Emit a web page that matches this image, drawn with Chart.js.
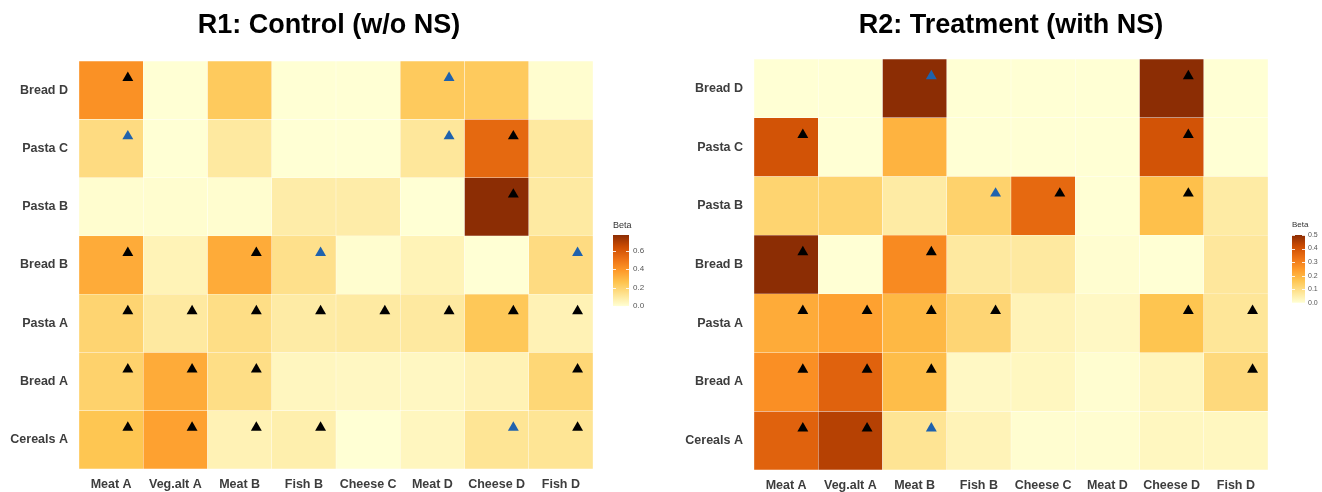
<!DOCTYPE html>
<html>
<head>
<meta charset="utf-8">
<title>Beta heatmaps R1 / R2</title>
<script src="https://cdn.jsdelivr.net/npm/chart.js@4.4.1/dist/chart.umd.min.js"></script>
<style>
  html, body { margin: 0; padding: 0; background: #ffffff; width: 1322px; height: 492px; overflow: hidden; }
  canvas { position: absolute; display: block; }
</style>
</head>
<body>
<canvas id="heatR1" width="600" height="492" style="left:0px;top:0px;width:600px;height:492px"></canvas>
<canvas id="barR1" width="43" height="100" style="left:606px;top:215px;width:43px;height:100px"></canvas>
<canvas id="heatR2" width="600" height="492" style="left:675px;top:0px;width:600px;height:492px"></canvas>
<canvas id="barR2" width="36" height="95" style="left:1288px;top:215px;width:36px;height:95px"></canvas>
<script>
// ---- categories -------------------------------------------------------
const products = ['Meat A', 'Veg.alt A', 'Meat B', 'Fish B', 'Cheese C', 'Meat D', 'Cheese D', 'Fish D'];
// food rows, listed from the top row down
const foods = ['Bread D', 'Pasta C', 'Pasta B', 'Bread B', 'Pasta A', 'Bread A', 'Cereals A'];

// ---- R1: Control (w/o NS) — beta per food (row) x product (column) ----
const betaR1 = [
  [0.41, 0.00, 0.23, 0.00,  0.00,  0.23,  0.23, 0.01 ],
  [0.16, 0.00, 0.10, 0.00,  0.00,  0.11,  0.54, 0.10 ],
  [0.01, 0.01, 0.01, 0.085, 0.085, 0.00,  0.77, 0.095],
  [0.33, 0.055,0.33, 0.14,  0.01,  0.055, 0.00, 0.16 ],
  [0.19, 0.10, 0.15, 0.09,  0.095, 0.10,  0.24, 0.06 ],
  [0.20, 0.33, 0.15, 0.04,  0.035, 0.035, 0.06, 0.18 ],
  [0.25, 0.36, 0.06, 0.075, 0.00,  0.04,  0.12, 0.12 ]
];
// significance markers: 'k' = black triangle, 'b' = blue triangle, '' = none
const sigR1 = [
  ['k', '',  '',  '',  '',  'b', '',  '' ],
  ['b', '',  '',  '',  '',  'b', 'k', '' ],
  ['',  '',  '',  '',  '',  '',  'k', '' ],
  ['k', '',  'k', 'b', '',  '',  '',  'b'],
  ['k', 'k', 'k', 'k', 'k', 'k', 'k', 'k'],
  ['k', 'k', 'k', '',  '',  '',  '',  'k'],
  ['k', 'k', 'k', 'k', '',  '',  'b', 'k']
];
const betaTicksR1 = [0.0, 0.2, 0.4, 0.6];

// ---- R2: Treatment (with NS) -------------------------------------------
const betaR2 = [
  [0.00,  0.00,  0.50, 0.00,  0.00,  0.00,  0.50,  0.00 ],
  [0.40,  0.00,  0.20, 0.00,  0.00,  0.00,  0.40,  0.00 ],
  [0.125, 0.125, 0.06, 0.13,  0.35,  0.00,  0.175, 0.06 ],
  [0.50,  0.00,  0.28, 0.065, 0.065, 0.005, 0.00,  0.07 ],
  [0.215, 0.235, 0.19, 0.12,  0.035, 0.02,  0.165, 0.075],
  [0.27,  0.365, 0.18, 0.02,  0.025, 0.005, 0.03,  0.11 ],
  [0.365, 0.445, 0.08, 0.035, 0.005, 0.005, 0.025, 0.025]
];
const sigR2 = [
  ['',  '',  'b', '',  '',  '',  'k', '' ],
  ['k', '',  '',  '',  '',  '',  'k', '' ],
  ['',  '',  '',  'b', 'k', '',  'k', '' ],
  ['k', '',  'k', '',  '',  '',  '',  '' ],
  ['k', 'k', 'k', 'k', '',  '',  'k', 'k'],
  ['k', 'k', 'k', '',  '',  '',  '',  'k'],
  ['k', 'k', 'b', '',  '',  '',  '',  '' ]
];
const betaTicksR2 = [0.0, 0.1, 0.2, 0.3, 0.4, 0.5];

// ---- styling -----------------------------------------------------------
const FONT = '"Liberation Sans", Arial, Helvetica, sans-serif';
const palette = ['#ffffd4', '#fee391', '#fec44f', '#fe9929', '#ec7014', '#cc4c02', '#8c2d04'];
const markColours = { k: '#000000', b: '#1f62ad' };

function hexRgb(h) {
  return [parseInt(h.slice(1, 3), 16), parseInt(h.slice(3, 5), 16), parseInt(h.slice(5, 7), 16)];
}
const paletteRgb = palette.map(hexRgb);

// linear interpolation through the sequential palette, t in [0, 1]
function colourAt(t) {
  t = Math.max(0, Math.min(1, t));
  const pos = t * (paletteRgb.length - 1);
  const i = Math.min(Math.floor(pos), paletteRgb.length - 2);
  const f = pos - i;
  const a = paletteRgb[i], b = paletteRgb[i + 1];
  const c = a.map((v, k) => Math.round(v + (b[k] - v) * f));
  return 'rgb(' + c.join(',') + ')';
}

// value-axis position of a food row (top row gets the highest index)
const rowPos = i => foods.length - 1 - i;

function cellDatasets(beta) {
  const flat = beta.flat();
  const vmin = Math.min(...flat), vmax = Math.max(...flat);
  return beta.map((row, i) => ({
    type: 'bar',
    label: foods[i],
    order: 1,
    data: row.map((v, c) => ({ x: c, y: [rowPos(i) - 0.5, rowPos(i) + 0.5], beta: v })),
    backgroundColor: row.map(v => colourAt((v - vmin) / (vmax - vmin))),
    borderColor: 'rgba(255,255,255,0.3)',
    borderWidth: 0.5,
    borderSkipped: false,
    grouped: false,
    categoryPercentage: 1,
    barPercentage: 1
  }));
}

function markerDataset(sig) {
  const pts = [], cols = [];
  sig.forEach((row, i) => row.forEach((s, c) => {
    if (s) {
      // triangles sit in the upper-right part of their cell
      pts.push({ x: c + 0.26, y: rowPos(i) + 0.21 });
      cols.push(markColours[s]);
    }
  }));
  return {
    type: 'scatter',
    label: 'significant',
    order: 0,
    data: pts,
    pointStyle: 'triangle',
    pointRadius: 6.3,
    pointHoverRadius: 6.3,
    pointBackgroundColor: cols,
    pointBorderWidth: 0
  };
}

// panel title centred over the plotting area
const panelTitle = {
  id: 'panelTitle',
  afterDraw(chart, args, opts) {
    const { ctx, chartArea } = chart;
    ctx.save();
    ctx.font = 'bold 27px ' + FONT;
    ctx.fillStyle = '#000000';
    ctx.textAlign = 'center';
    ctx.textBaseline = 'alphabetic';
    ctx.fillText(opts.text, (chartArea.left + chartArea.right) / 2 + (opts.shift || 0), opts.baseline);
    ctx.restore();
  }
};

const axisFont = { family: FONT, size: 12.5, weight: 'bold' };

function heatmap(id, titleText, titleShift, beta, sig, padTop, xAxisHeight) {
  return new Chart(document.getElementById(id), {
    type: 'bar',
    data: { datasets: [markerDataset(sig), ...cellDatasets(beta)] },
    options: {
      responsive: false,
      animation: false,
      events: [],
      layout: { padding: { top: padTop, right: 7, bottom: 0, left: 0 } },
      plugins: {
        legend: { display: false },
        tooltip: { enabled: false },
        title: { display: false },
        panelTitle: { text: titleText, shift: titleShift, baseline: 33 }
      },
      scales: {
        x: {
          type: 'linear',
          min: -0.5,
          max: products.length - 0.5,
          offset: false,
          grid: { display: false, drawTicks: false },
          border: { display: false },
          afterBuildTicks: s => { s.ticks = products.map((_, i) => ({ value: i })); },
          afterFit: s => { s.height = xAxisHeight; },
          ticks: {
            autoSkip: false, maxRotation: 0, minRotation: 0, padding: 8,
            color: '#3d3d3d', font: axisFont,
            callback: v => products[Math.round(v)]
          }
        },
        y: {
          type: 'linear',
          min: -0.5,
          max: foods.length - 0.5,
          grid: { display: false, drawTicks: false },
          border: { display: false },
          afterBuildTicks: s => { s.ticks = foods.map((_, i) => ({ value: i })); },
          afterFit: s => { s.width = 79; },
          ticks: {
            autoSkip: false, padding: 11,
            color: '#3d3d3d', font: axisFont,
            callback: v => foods[rowPos(Math.round(v))]
          }
        }
      }
    },
    plugins: [panelTitle]
  });
}

// short white tick marks on both edges of the colour bar
const barTicks = {
  id: 'barTicks',
  afterDatasetsDraw(chart) {
    const { ctx, chartArea, scales } = chart;
    const y = scales.y;
    ctx.save();
    ctx.strokeStyle = 'rgba(255,255,255,0.85)';
    ctx.lineWidth = 1;
    y.ticks.forEach(t => {
      const py = Math.round(y.getPixelForValue(t.value)) + 0.5;
      ctx.beginPath();
      ctx.moveTo(chartArea.left, py); ctx.lineTo(chartArea.left + 3, py);
      ctx.moveTo(chartArea.right - 3, py); ctx.lineTo(chartArea.right, py);
      ctx.stroke();
    });
    ctx.restore();
  }
};

function colourBar(id, beta, ticks, cfg) {
  const flat = beta.flat();
  const vmin = Math.min(...flat), vmax = Math.max(...flat);
  return new Chart(document.getElementById(id), {
    type: 'bar',
    data: {
      labels: ['Beta'],
      datasets: [{
        data: [[vmin, vmax]],
        backgroundColor: ctx => {
          const area = ctx.chart.chartArea;
          if (!area) return palette[0];
          const g = ctx.chart.ctx.createLinearGradient(0, area.bottom, 0, area.top);
          palette.forEach((c, i) => g.addColorStop(i / (palette.length - 1), c));
          return g;
        },
        borderWidth: 0,
        categoryPercentage: 1,
        barPercentage: 1
      }]
    },
    options: {
      responsive: false,
      animation: false,
      events: [],
      layout: { padding: { top: 0, right: 0, bottom: cfg.padBottom, left: cfg.padLeft } },
      plugins: {
        legend: { display: false },
        tooltip: { enabled: false },
        title: {
          display: true, text: 'Beta', align: 'start', color: '#333333',
          font: { family: FONT, size: cfg.titleSize, weight: 'normal' },
          padding: { top: cfg.titleTop, bottom: cfg.titleBottom }
        }
      },
      scales: {
        x: { display: false },
        y: {
          position: 'right',
          min: vmin,
          max: vmax,
          grid: { display: false, drawTicks: false },
          border: { display: false },
          afterBuildTicks: s => { s.ticks = ticks.map(v => ({ value: v })); },
          afterFit: s => { s.width = cfg.axisWidth; },
          ticks: {
            padding: cfg.tickPad, color: '#555555',
            font: { family: FONT, size: cfg.tickSize },
            callback: v => Number(v).toFixed(1)
          }
        }
      }
    },
    plugins: [barTicks]
  });
}

heatmap('heatR1', 'R1: Control (w/o NS)', -7, betaR1, sigR1, 61, 23);
heatmap('heatR2', 'R2: Treatment (with NS)', 0, betaR2, sigR2, 59, 22);

colourBar('barR1', betaR1, betaTicksR1, {
  padLeft: 7, padBottom: 8, axisWidth: 20, tickPad: 4, tickSize: 8,
  titleSize: 9, titleTop: 5, titleBottom: 4.2
});
colourBar('barR2', betaR2, betaTicksR2, {
  padLeft: 4, padBottom: 5, axisWidth: 19, tickPad: 3, tickSize: 7,
  titleSize: 8, titleTop: 5, titleBottom: 5.4
});
</script>
</body>
</html>
